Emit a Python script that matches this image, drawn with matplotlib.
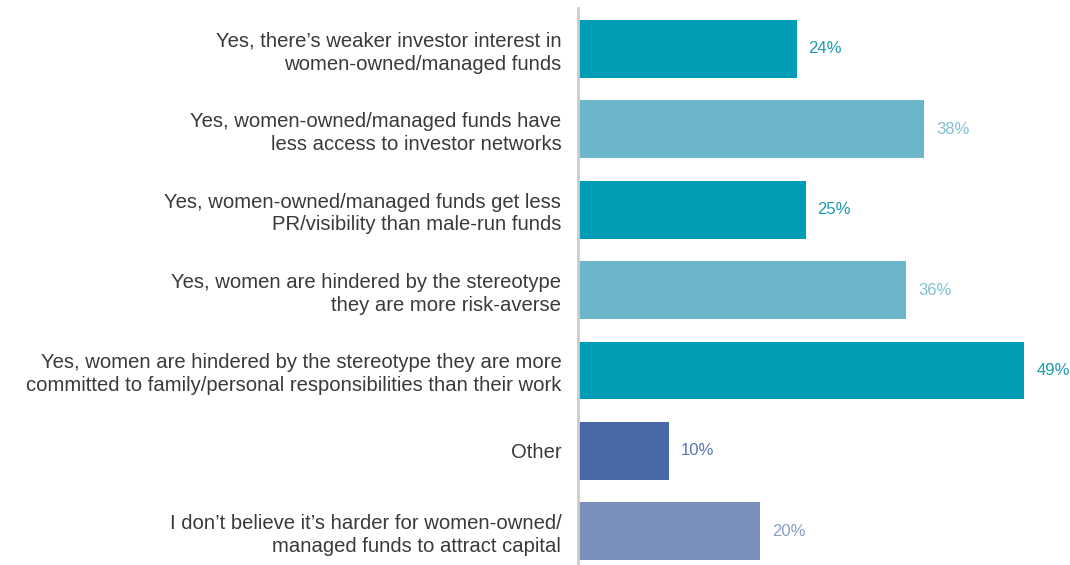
import matplotlib.pyplot as plt

# Data
categories = [
    "Yes, there\u2019s weaker investor interest in\nwomen-owned/managed funds",
    "Yes, women-owned/managed funds have\nless access to investor networks",
    "Yes, women-owned/managed funds get less\nPR/visibility than male-run funds",
    "Yes, women are hindered by the stereotype\nthey are more risk-averse",
    "Yes, women are hindered by the stereotype they are more\ncommitted to family/personal responsibilities than their work",
    "Other",
    "I don\u2019t believe it\u2019s harder for women-owned/\nmanaged funds to attract capital",
]
values = [24, 38, 25, 36, 49, 10, 20]
colors = ["#009EB6", "#6BB6CA", "#009EB6", "#6BB6CA", "#009EB6", "#4868A8", "#7B8FBD"]
label_colors = ["#1C9AB0", "#82C0D2", "#1C9AB0", "#82C0D2", "#1C9AB0", "#5874B0", "#8A9CC6"]

plt.rcParams['font.family'] = ['Liberation Sans', 'DejaVu Sans']

fig = plt.figure(figsize=(10.7, 5.65), dpi=100)
ax = fig.add_axes([578 / 1070, 0, 492 / 1070, 557 / 565])

y = list(range(len(values)))
ax.barh(y, values, height=0.72, color=colors)

for i, v in enumerate(values):
    ax.text(v + 1.3, i, "%d%%" % v, va="center", ha="left",
            fontsize=12, color=label_colors[i])

ax.set_xlim(0, 54)
ax.set_ylim(6.42, -0.51)
ax.set_yticks(y)
ax.set_yticklabels(categories, fontsize=14.6, color="#3a3a3a", linespacing=1.25)
ax.tick_params(axis="y", length=0, pad=12)
ax.set_xticks([])

for s in ["top", "right", "bottom"]:
    ax.spines[s].set_visible(False)
ax.spines["left"].set_color("#cccccc")
ax.spines["left"].set_linewidth(2)

plt.savefig("out.png", dpi=100)
